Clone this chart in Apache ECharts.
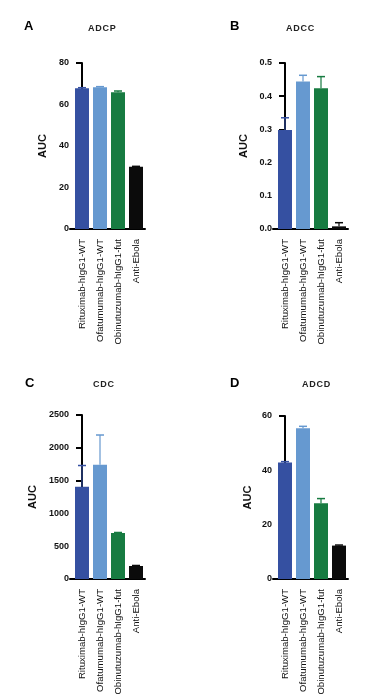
<!DOCTYPE html>
<html><head><meta charset="utf-8">
<script src="https://cdn.jsdelivr.net/npm/echarts@6/dist/echarts.min.js"></script>
<style>html,body{margin:0;padding:0;background:#fff;}#c{width:382px;height:700px;}</style>
</head><body><div id="c"></div>
<script>
var categories = ['Rituximab-hIgG1-WT','Ofatumumab-hIgG1-WT','Obinutuzumab-hIgG1-fut','Anti-Ebola'];
var barColors = ['#3550A1','#6699D0','#177B41','#0B0B0B'];

var adcpValues = [67.8, 68.3, 65.9, 30.0];
var adcpErrors = [0.3, 0.3, 0.6, 0.2];
var adcpTicks = {max: 80, interval: 20};

var adccValues = [0.298, 0.444, 0.424, 0.008];
var adccErrors = [0.037, 0.019, 0.035, 0.011];
var adccTicks = {max: 0.5, interval: 0.1};

var cdcValues = [1405, 1740, 701, 198];
var cdcErrors = [325, 455, 8, 8];
var cdcTicks = {max: 2500, interval: 500};

var adcdValues = [42.9, 55.5, 27.9, 12.3];
var adcdErrors = [0.3, 0.7, 1.7, 0.2];
var adcdTicks = {max: 60, interval: 20};

var panels = [
  {letter:'A', title:'ADCP', values:adcpValues, errors:adcpErrors, ticks:adcpTicks, left:70, top:63, height:166, nameGap:22, fmt:function(v){return v;}},
  {letter:'B', title:'ADCC', values:adccValues, errors:adccErrors, ticks:adccTicks, left:273, top:63, height:166, nameGap:24, fmt:function(v){return v.toFixed(1);}},
  {letter:'C', title:'CDC', values:cdcValues, errors:cdcErrors, ticks:cdcTicks, left:70, top:415, height:164, nameGap:32, fmt:function(v){return v;}},
  {letter:'D', title:'ADCD', values:adcdValues, errors:adcdErrors, ticks:adcdTicks, left:273, top:416, height:163, nameGap:20, fmt:function(v){return v;}}
];
var titlePos = [
  {lx:24, ly:20, tx:88, ty:24},
  {lx:230, ly:20, tx:286, ty:24},
  {lx:25, ly:377, tx:93, ty:380},
  {lx:230, ly:377, tx:302, ty:380}
];

var fontFam = '"Liberation Sans", Arial, Helvetica, sans-serif';
var option = {animation:false, grid:[], xAxis:[], yAxis:[], series:[], title:[]};

panels.forEach(function(p, i){
  var tp = titlePos[i];
  option.title.push({text:p.letter, left:tp.lx, top:tp.ly, padding:0, textStyle:{fontFamily:fontFam, fontWeight:'bold', fontSize:13, color:'#000'}});
  option.title.push({text:p.title.split('').join('\u200A'), left:tp.tx, top:tp.ty, padding:0, textStyle:{fontFamily:fontFam, fontWeight:'bold', fontSize:9, color:'#222'}});
  option.grid.push({left:p.left, top:p.top, width:75, height:p.height, containLabel:false});
  option.xAxis.push({
    type:'value', gridIndex:i, min:-0.6667, max:3.5,
    splitLine:{show:false},
    axisLine:{show:true, onZero:false, lineStyle:{color:'#000', width:2}},
    axisTick:{show:false},
    axisLabel:{customValues:[0,1,2,3], rotate:90, margin:10, fontFamily:fontFam, fontSize:9.6, color:'#111',
      formatter:function(v){ return categories[Math.round(v)] || ''; }}
  });
  option.yAxis.push({
    type:'value', gridIndex:i, min:0, max:p.ticks.max, interval:p.ticks.interval,
    name:'AUC', nameLocation:'middle', nameGap:p.nameGap, nameRotate:90,
    nameTextStyle:{fontFamily:fontFam, fontWeight:'bold', fontSize:11, color:'#111'},
    splitLine:{show:false},
    axisLine:{show:true, lineStyle:{color:'#000', width:2}},
    axisTick:{show:true, length:6, lineStyle:{color:'#000', width:2}},
    axisLabel:{margin:1, fontFamily:fontFam, fontWeight:'bold', fontSize:9, color:'#111', formatter:p.fmt}
  });
  option.series.push({
    type:'bar', xAxisIndex:i, yAxisIndex:i, barWidth:14, z:2,
    data:p.values.map(function(v, k){ return {value:[k, v], itemStyle:{color:barColors[k]}}; })
  });
  option.series.push({
    type:'custom', xAxisIndex:i, yAxisIndex:i, z:5,
    data:p.values.map(function(v, k){ return [k, v, v + p.errors[k]]; }),
    renderItem:function(params, api){
      var k = Math.round(api.value(0));
      var a = api.coord([k, api.value(1)]);
      var b = api.coord([k, api.value(2)]);
      return {type:'group', children:[
        {type:'rect', shape:{x:a[0]-0.75, y:b[1], width:1.5, height:Math.max(a[1]-b[1], 0)}, style:{fill:barColors[k], opacity:0.8}},
        {type:'rect', shape:{x:b[0]-4, y:b[1]-0.75, width:8, height:1.5}, style:{fill:barColors[k]}}
      ]};
    }
  });
});

var chart = echarts.init(document.getElementById('c'), null, {renderer:'canvas'});
chart.setOption(option);
</script></body></html>
